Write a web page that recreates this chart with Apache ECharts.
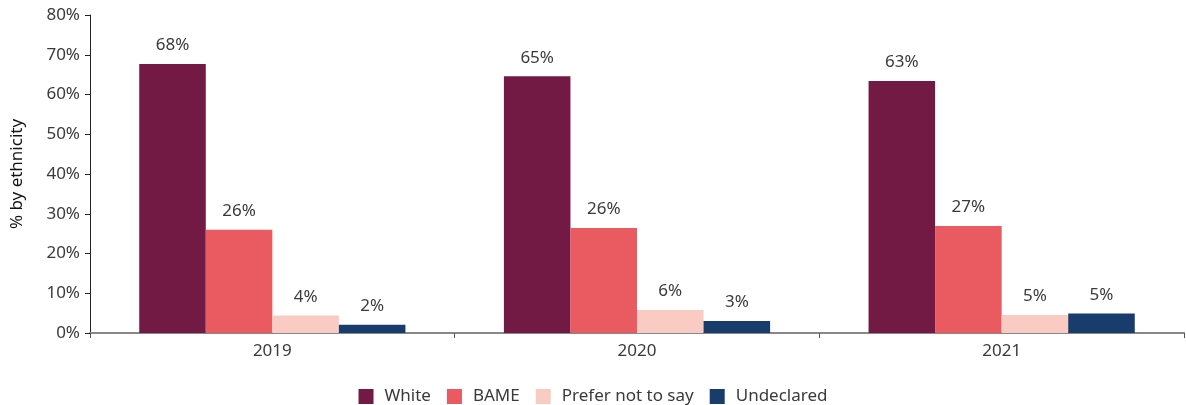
<!DOCTYPE html>
<html>
<head>
<meta charset="utf-8">
<script src="https://cdn.jsdelivr.net/npm/echarts@6/dist/echarts.min.js"></script>
<style>
html, body { margin: 0; padding: 0; background: #fff; }
#chart { width: 1186px; height: 405px; }
</style>
</head>
<body>
<div id="chart"></div>
<script>
var years = ['2019', '2020', '2021'];
var seriesNames = ['White', 'BAME', 'Prefer not to say', 'Undeclared'];
var white = [67.7, 64.6, 63.4];
var bame = [26.0, 26.4, 26.9];
var preferNot = [4.4, 5.8, 4.5];
var undeclared = [2.1, 3.0, 4.9];
var yTicks = [0, 10, 20, 30, 40, 50, 60, 70, 80];

var colors = ['#721a44', '#ea5a61', '#f9cbc2', '#183c6b'];
var font = 'Noto Sans';
var textColor = '#3a3a3a';

var chart = echarts.init(document.getElementById('chart'));

function makeSeries(name, data, idx) {
    return {
        name: name,
        type: 'bar',
        data: data,
        barGap: 0,
        barCategoryGap: '27%',
        itemStyle: { color: colors[idx] },
        label: {
            show: true,
            position: 'top',
            distance: 10,
            fontFamily: font,
            fontSize: 17,
            color: textColor,
            formatter: function (p) { return Math.round(p.value) + '%'; }
        }
    };
}

var option = {
    animation: false,
    grid: { left: 90, right: 2, top: 15, bottom: 72 },
    legend: {
        data: seriesNames,
        top: 383,
        left: 'center',
        icon: 'rect',
        itemWidth: 15,
        itemHeight: 15,
        itemGap: 16,
        textStyle: { fontFamily: font, fontSize: 17, color: textColor, padding: [0, 0, 0, 6] }
    },
    xAxis: {
        type: 'category',
        data: years,
        axisLine: { lineStyle: { color: '#888', width: 2 } },
        axisTick: { show: true, length: 5, lineStyle: { color: '#555' } },
        axisLabel: { fontFamily: font, fontSize: 17, color: textColor, margin: 10 }
    },
    yAxis: {
        type: 'value',
        min: yTicks[0],
        max: yTicks[yTicks.length - 1],
        interval: 10,
        name: '% by ethnicity',
        nameLocation: 'middle',
        nameGap: 64,
        nameTextStyle: { fontFamily: font, fontSize: 17, color: '#111' },
        splitLine: { show: false },
        axisLine: { show: true, lineStyle: { color: '#222' } },
        axisTick: { show: true, length: 5, lineStyle: { color: '#222' } },
        axisLabel: {
            fontFamily: font, fontSize: 17, color: textColor, margin: 10,
            formatter: function (v) { return v + '%'; }
        }
    },
    series: [
        makeSeries(seriesNames[0], white, 0),
        makeSeries(seriesNames[1], bame, 1),
        makeSeries(seriesNames[2], preferNot, 2),
        makeSeries(seriesNames[3], undeclared, 3)
    ]
};

chart.setOption(option);
</script>
</body>
</html>
